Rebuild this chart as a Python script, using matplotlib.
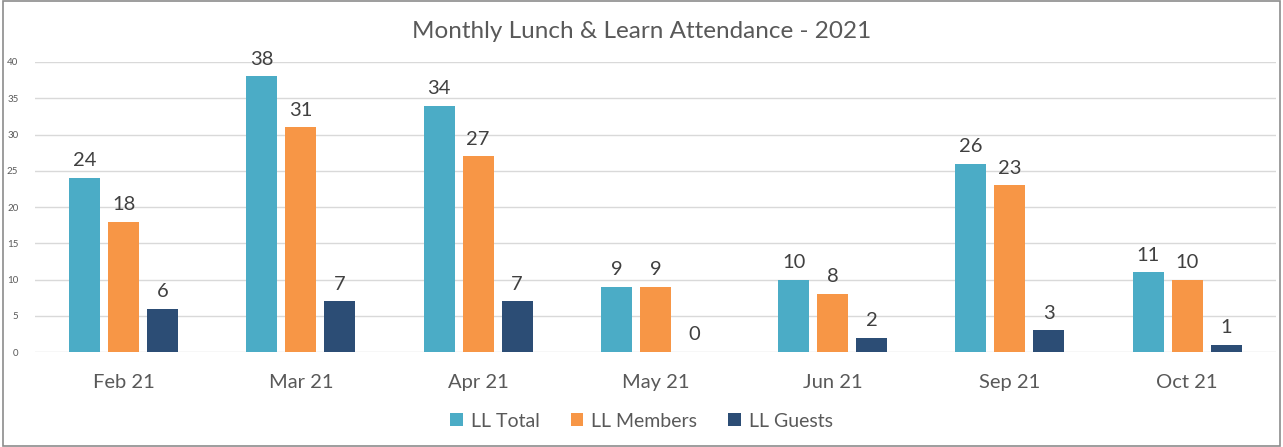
import matplotlib
matplotlib.use("Agg")
import matplotlib.pyplot as plt
import numpy as np
from matplotlib.patches import Rectangle

months = ["Feb 21", "Mar 21", "Apr 21", "May 21", "Jun 21", "Sep 21", "Oct 21"]
ll_total = [24, 38, 34, 9, 10, 26, 11]
ll_members = [18, 31, 27, 9, 8, 23, 10]
ll_guests = [6, 7, 7, 0, 2, 3, 1]
series_names = ["LL Total", "LL Members", "LL Guests"]
colors = ["#4BACC6", "#F79646", "#2C4D75"]

plt.rcParams['font.family'] = ['Lato', 'DejaVu Sans']
text_color = "#595959"

fig = plt.figure(figsize=(12.83, 4.47), dpi=100)
ax = fig.add_axes([0.0273, 0.2125, 0.967, 0.6488])

x = np.arange(len(months))
width = 0.175
offset = 0.22
for i, (vals, name, c) in enumerate(zip([ll_total, ll_members, ll_guests], series_names, colors)):
    pos = x + (i - 1) * offset
    bars = ax.bar(pos, vals, width, color=c, label=name, zorder=3)
    for b, v in zip(bars, vals):
        ax.text(b.get_x() + b.get_width() / 2, v + 1.2, str(v), ha='center', va='bottom',
                fontsize=14.5, color="#404040")

ax.set_xlim(-0.5, len(months) - 0.5)
ax.set_ylim(0, 40)
ax.set_yticks(range(0, 41, 5))
ax.grid(axis='y', color="#D9D9D9", linewidth=1, zorder=0)
for s in ax.spines.values():
    s.set_visible(False)
ax.tick_params(axis='y', length=0, labelsize=7, labelcolor=text_color, pad=12)
ax.tick_params(axis='x', length=0, labelsize=14.5, labelcolor=text_color, pad=16)
ax.set_xticks(x)
ax.set_xticklabels(months)

fig.text(0.5, 0.93, "Monthly Lunch & Learn Attendance - 2021", ha='center', va='center',
         fontsize=17.5, color=text_color)

fig.legend(loc='center', bbox_to_anchor=(0.5, 0.058), ncol=3, frameon=False,
           fontsize=14, labelcolor=text_color, handlelength=0.65, handleheight=0.65,
           handletextpad=0.4, columnspacing=1.6)

fig.patches.append(Rectangle((0.002, 0.003), 0.996, 0.994, transform=fig.transFigure,
                             fill=False, edgecolor="#8C8C8C", linewidth=1.2))

fig.savefig("out.png", dpi=100)
